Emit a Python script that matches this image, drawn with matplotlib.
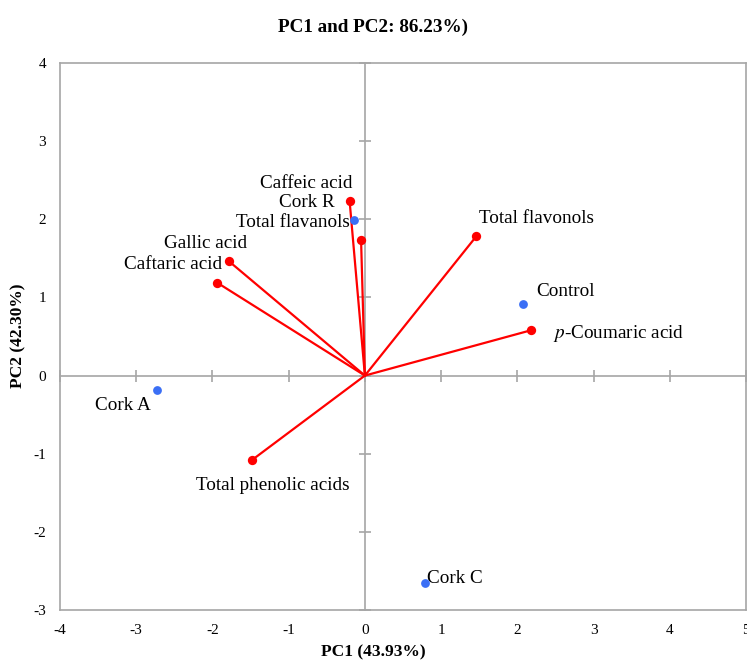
import matplotlib
matplotlib.use("Agg")
import matplotlib.pyplot as plt

plt.rcParams['font.family'] = ['Liberation Serif', 'DejaVu Serif']
plt.rcParams['mathtext.fontset'] = 'stix'

# Variables (loadings, drawn as vectors)
var_names = ["Caffeic acid", "Total flavanols", "Gallic acid", "Caftaric acid",
             "Total flavonols", r"$\mathit{p}$-Coumaric acid", "Total phenolic acids"]
var_pc1 = [-0.20, -0.05, -1.78, -1.94, 1.46, 2.18, -1.48]
var_pc2 = [2.23, 1.73, 1.46, 1.19, 1.78, 0.58, -1.08]

# Samples (scores)
obs_names = ["Cork R", "Control", "Cork A", "Cork C"]
obs_pc1 = [-0.14, 2.07, -2.73, 0.79]
obs_pc2 = [1.99, 0.91, -0.18, -2.65]

x_ticks = [-4, -3, -2, -1, 0, 1, 2, 3, 4, 5]
y_ticks = [-3, -2, -1, 0, 1, 2, 3, 4]

# label offsets in pixels (dx, dy, ha)
var_off = [(3, 18, 'right'), (-11, 18, 'right'), (18, 18, 'right'), (5, 18, 'right'),
           (3, 18, 'left'), (22, -3, 'left'), (21, -26, 'center')]
obs_off = [(-19, 18, 'right'), (14, 13, 'left'), (-6, -16, 'right'), (2, 4, 'left')]

W, H = 747, 660
fig = plt.figure(figsize=(W / 100, H / 100), dpi=100)
pos = [60 / W, 50 / H, 686 / W, 547 / H]
ax = fig.add_axes(pos)
gray = '#A6A6A6'
red = '#FF0000'
blue = '#3B6FF5'

ax.set_xlim(-4, 5)
ax.set_ylim(-3, 4)
ax.set_xticks(x_ticks)
ax.set_yticks(y_ticks)
ax.set_xticklabels([str(t) for t in x_ticks])
ax.set_yticklabels([str(t) for t in y_ticks])
ax.tick_params(length=0, labelsize=11, pad=10, colors='black')
for s in ax.spines.values():
    s.set_color(gray)
    s.set_linewidth(1.2)

# zero-line axes with crossing ticks
ax2 = fig.add_axes(pos, sharex=ax, sharey=ax)
ax2.patch.set_alpha(0)
ax2.spines['left'].set_position(('data', 0))
ax2.spines['bottom'].set_position(('data', 0))
ax2.spines['top'].set_visible(False)
ax2.spines['right'].set_visible(False)
for k in ('left', 'bottom'):
    ax2.spines[k].set_color(gray)
    ax2.spines[k].set_linewidth(1.2)
ax2.tick_params(direction='inout', length=8, width=1.2, color=gray,
                labelleft=False, labelbottom=False)

for x, y in zip(var_pc1, var_pc2):
    ax2.plot([0, x], [0, y], color=red, lw=1.6, zorder=3)
ax2.scatter(var_pc1, var_pc2, s=45, color=red, zorder=4, linewidths=0)
ax2.scatter(obs_pc1, obs_pc2, s=40, color=blue, zorder=4, linewidths=0)

fs = 13.8
for n, x, y, (dx, dy, ha) in zip(var_names, var_pc1, var_pc2, var_off):
    ax2.annotate(n, (x, y), xytext=(dx * 0.72, dy * 0.72), textcoords='offset points',
                 ha=ha, va='center', fontsize=fs)
for n, x, y, (dx, dy, ha) in zip(obs_names, obs_pc1, obs_pc2, obs_off):
    ax2.annotate(n, (x, y), xytext=(dx * 0.72, dy * 0.72), textcoords='offset points',
                 ha=ha, va='center', fontsize=fs)

fig.text(0.5, 1 - 27 / H, "PC1 and PC2: 86.23%)", ha='center', va='center',
         fontsize=13.8, fontweight='bold')
fig.text(0.5, 1 - 652 / H, "PC1 (43.93%)", ha='center', va='center',
         fontsize=12.5, fontweight='bold')
fig.text(18 / W, 1 - 336 / H, "PC2 (42.30%)", ha='center', va='center',
         fontsize=12.5, fontweight='bold', rotation=90)

fig.savefig("out.png", dpi=100)
